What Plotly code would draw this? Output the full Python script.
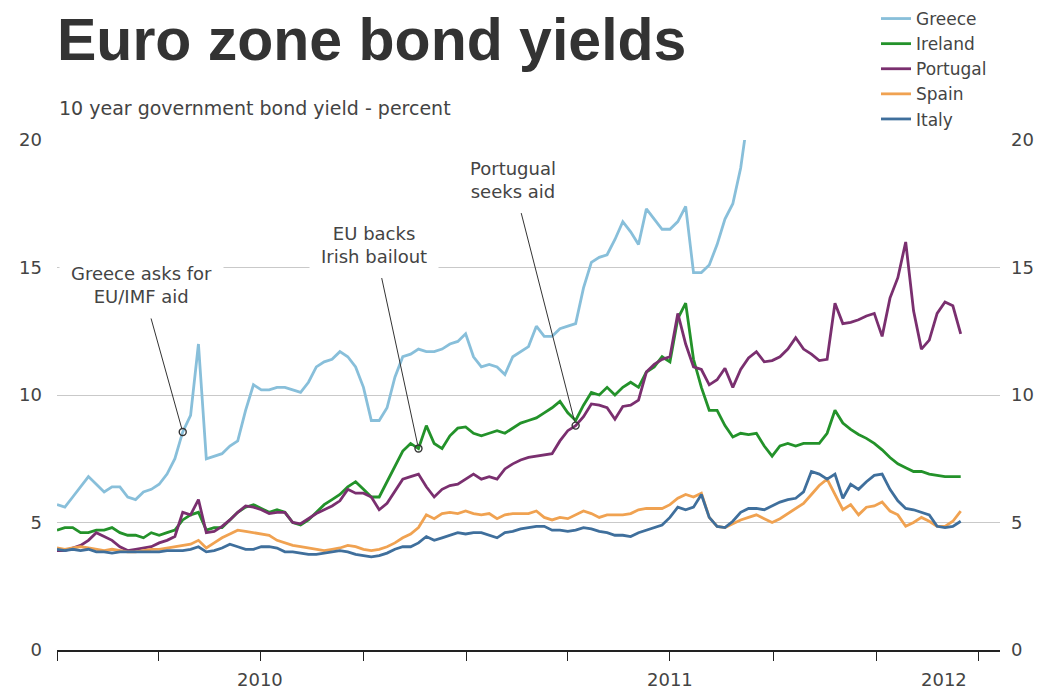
import pandas as pd
import plotly.graph_objects as go

# Weekly observations (Fridays) starting 1 Jan 2010
dates = pd.date_range("2010-01-01", periods=116, freq="7D")

greece = [
    5.7, 5.6, 6.0, 6.4, 6.8, 6.5, 6.2, 6.4, 6.4, 6.0,
    5.9, 6.2, 6.3, 6.5, 6.9, 7.5, 8.55, 9.2, 12.0, 7.5,
    7.6, 7.7, 8.0, 8.2, 9.4, 10.4, 10.2, 10.2, 10.3, 10.3,
    10.2, 10.1, 10.5, 11.1, 11.3, 11.4, 11.7, 11.5, 11.1, 10.3,
    9.0, 9.0, 9.5, 10.7, 11.5, 11.6, 11.8, 11.7, 11.7, 11.8,
    12.0, 12.1, 12.4, 11.5, 11.1, 11.2, 11.1, 10.8, 11.5, 11.7,
    11.9, 12.7, 12.3, 12.3, 12.6, 12.7, 12.8, 14.2, 15.2, 15.4,
    15.5, 16.1, 16.8, 16.4, 15.9, 17.3, 16.9, 16.5, 16.5, 16.8,
    17.4, 14.8, 14.8, 15.1, 15.9, 16.9, 17.5, 18.9, 21.1,
]

ireland = [
    4.7, 4.8, 4.8, 4.6, 4.6, 4.7, 4.7, 4.8, 4.6, 4.5,
    4.5, 4.4, 4.6, 4.5, 4.6, 4.7, 5.1, 5.3, 5.4, 4.7,
    4.8, 4.8, 5.1, 5.4, 5.6, 5.7, 5.55, 5.4, 5.5, 5.4,
    5.0, 4.9, 5.1, 5.4, 5.7, 5.9, 6.1, 6.4, 6.6, 6.3,
    6.0, 6.0, 6.6, 7.2, 7.8, 8.1, 7.9, 8.8, 8.1, 7.9,
    8.4, 8.7, 8.75, 8.5, 8.4, 8.5, 8.6, 8.5, 8.7, 8.9,
    9.0, 9.1, 9.3, 9.5, 9.75, 9.3, 9.0, 9.6, 10.1, 10.0,
    10.3, 10.0, 10.3, 10.5, 10.3, 10.9, 11.1, 11.5, 11.3, 13.0,
    13.6, 11.4, 10.3, 9.4, 9.4, 8.8, 8.35, 8.5, 8.45, 8.5,
    8.0, 7.6, 8.0, 8.1, 8.0, 8.1, 8.1, 8.1, 8.5, 9.4,
    8.9, 8.65, 8.45, 8.3, 8.1, 7.85, 7.55, 7.3, 7.15, 7.0,
    7.0, 6.9, 6.85, 6.8, 6.8, 6.8,
]

portugal = [
    3.9, 3.9, 4.0, 4.1, 4.3, 4.6, 4.45, 4.3, 4.05, 3.9,
    3.95, 4.0, 4.05, 4.2, 4.3, 4.45, 5.4, 5.3, 5.9, 4.6,
    4.65, 4.85, 5.1, 5.4, 5.65, 5.6, 5.5, 5.35, 5.4, 5.4,
    5.0, 4.95, 5.15, 5.35, 5.5, 5.65, 5.85, 6.3, 6.15, 6.15,
    6.0, 5.5, 5.75, 6.2, 6.7, 6.8, 6.9, 6.4, 6.0, 6.3,
    6.45, 6.5, 6.7, 6.9, 6.7, 6.8, 6.7, 7.1, 7.3, 7.45,
    7.55, 7.6, 7.65, 7.7, 8.2, 8.6, 8.8, 9.15, 9.65, 9.6,
    9.5, 9.05, 9.55, 9.6, 9.8, 10.9, 11.2, 11.4, 11.5, 13.2,
    12.0, 11.1, 11.0, 10.4, 10.6, 11.05, 10.3, 11.0, 11.45, 11.7,
    11.3, 11.35, 11.5, 11.8, 12.25, 11.8, 11.6, 11.35, 11.4, 13.6,
    12.8, 12.85, 12.95, 13.1, 13.2, 12.3, 13.8, 14.6, 16.0, 13.3,
    11.8, 12.15, 13.2, 13.65, 13.5, 12.4,
]

spain = [
    4.0, 3.95, 4.0, 4.05, 4.0, 3.95, 3.9, 3.95, 3.9, 3.85,
    3.85, 3.9, 3.95, 3.95, 4.0, 4.05, 4.1, 4.15, 4.3, 4.0,
    4.2, 4.4, 4.55, 4.7, 4.65, 4.6, 4.55, 4.5, 4.3, 4.2,
    4.1, 4.05, 4.0, 3.95, 3.9, 3.95, 4.0, 4.1, 4.05, 3.95,
    3.9, 3.95, 4.05, 4.2, 4.4, 4.55, 4.8, 5.3, 5.15, 5.35,
    5.4, 5.35, 5.45, 5.35, 5.3, 5.35, 5.15, 5.3, 5.35, 5.35,
    5.35, 5.45, 5.2, 5.1, 5.2, 5.15, 5.3, 5.45, 5.35, 5.2,
    5.3, 5.3, 5.3, 5.35, 5.5, 5.55, 5.55, 5.55, 5.7, 5.95,
    6.1, 6.0, 6.15, 5.2, 4.85, 4.8, 4.95, 5.1, 5.2, 5.3,
    5.15, 5.0, 5.15, 5.35, 5.55, 5.75, 6.1, 6.45, 6.7, 6.1,
    5.5, 5.7, 5.3, 5.6, 5.65, 5.8, 5.45, 5.3, 4.85, 5.0,
    5.2, 5.05, 4.85, 4.85, 5.05, 5.45,
]

italy = [
    3.95, 3.9, 3.95, 3.9, 3.95, 3.85, 3.85, 3.8, 3.85, 3.85,
    3.85, 3.85, 3.85, 3.85, 3.9, 3.9, 3.9, 3.95, 4.05, 3.85,
    3.9, 4.0, 4.15, 4.05, 3.95, 3.95, 4.05, 4.05, 4.0, 3.85,
    3.85, 3.8, 3.75, 3.75, 3.8, 3.85, 3.9, 3.85, 3.75, 3.7,
    3.65, 3.7, 3.8, 3.95, 4.05, 4.05, 4.2, 4.45, 4.3, 4.4,
    4.5, 4.6, 4.55, 4.6, 4.6, 4.5, 4.4, 4.6, 4.65, 4.75,
    4.8, 4.85, 4.85, 4.7, 4.7, 4.65, 4.7, 4.8, 4.75, 4.65,
    4.6, 4.5, 4.5, 4.45, 4.6, 4.7, 4.8, 4.9, 5.2, 5.6,
    5.5, 5.6, 6.1, 5.2, 4.85, 4.8, 5.05, 5.4, 5.55, 5.55,
    5.5, 5.65, 5.8, 5.9, 5.95, 6.2, 7.0, 6.9, 6.7, 6.9,
    5.95, 6.5, 6.3, 6.6, 6.85, 6.9, 6.3, 5.85, 5.55, 5.5,
    5.4, 5.3, 4.85, 4.8, 4.85, 5.05,
]

y_ticks = [0, 5, 10, 15, 20]
quarter_ticks = pd.date_range("2010-01-01", "2012-04-01", freq="QS")
year_labels = [("2010", "2010-07-01"), ("2011", "2011-07-01"), ("2012", "2012-03-01")]

# Events: (text, series, week index, label offset x, label offset y)
events = [
    ("Greece asks for<br>EU/IMF aid", greece, 16, -41, -147),
    ("EU backs<br>Irish bailout", ireland, 46, -44, -204),
    ("Portugual<br>seeks aid", portugal, 66, -63, -246),
]

TXT = "#444444"
FONT = "DejaVu Sans"

series = [
    ("Greece", greece, "#88bfda"),
    ("Ireland", ireland, "#23922a"),
    ("Portugal", portugal, "#7a2f6f"),
    ("Spain", spain, "#f0a251"),
    ("Italy", italy, "#3f6f9c"),
]

fig = go.Figure()
for name, vals, color in series:
    fig.add_trace(go.Scatter(
        x=dates[:len(vals)], y=vals, name=name, mode="lines",
        line=dict(color=color, width=2.8), hoverinfo="x+y+name",
    ))

# Event markers (drawn on the right-hand axis, which shares the same scale)
fig.add_trace(go.Scatter(
    x=[dates[i] for _, _, i, _, _ in events],
    y=[s[i] for _, s, i, _, _ in events],
    mode="markers", yaxis="y2", showlegend=False, hoverinfo="skip",
    marker=dict(symbol="circle-open", size=7, color="#333333", line=dict(width=1.4)),
))

annotations = []
for text, s, i, ax, ay in events:
    annotations.append(dict(
        x=dates[i], y=s[i], xref="x", yref="y", text=text,
        showarrow=True, arrowhead=0, arrowwidth=1, arrowcolor="#333333",
        ax=ax, ay=ay, standoff=4, bgcolor="white", borderpad=11,
        font=dict(family=FONT, size=18, color=TXT), align="center",
    ))

for label, when in year_labels:
    annotations.append(dict(
        x=when, y=0, xref="x", yref="paper", text=label, showarrow=False,
        yanchor="middle", yshift=-29,
        font=dict(family=FONT, size=18, color=TXT),
    ))

annotations.append(dict(
    x=0, y=1.0627, xref="paper", yref="paper", xanchor="left", yanchor="middle",
    text="10 year government bond yield - percent", showarrow=False,
    font=dict(family=FONT, size=19, color=TXT),
))

axis_font = dict(family=FONT, size=18, color=TXT)

fig.update_layout(
    width=1041, height=691,
    margin=dict(l=57, r=41, t=140, b=41, autoexpand=False),
    paper_bgcolor="white", plot_bgcolor="white",
    title=dict(
        text="<b>Euro zone bond yields</b>",
        x=57 / 1041, xref="container", xanchor="left",
        y=1 - 39 / 691, yref="container", yanchor="middle",
        font=dict(family="Liberation Sans", size=59, color="#333333"),
    ),
    xaxis=dict(
        range=["2010-01-01", "2012-04-20"],
        tickvals=list(quarter_ticks), ticktext=[""] * len(quarter_ticks),
        ticks="outside", ticklen=9, tickwidth=1.3, tickcolor="#222222",
        showline=True, linecolor="#222222", linewidth=1.5,
        showgrid=False, zeroline=False,
    ),
    yaxis=dict(
        range=[0, 20], tickvals=y_ticks, showgrid=True,
        gridcolor="#c9c9c9", gridwidth=1.2, zeroline=False,
        ticks="", tickfont=axis_font, ticklabelstandoff=14,
    ),
    yaxis2=dict(
        range=[0, 20], tickvals=y_ticks, overlaying="y", side="right",
        showgrid=False, zeroline=False, ticks="", tickfont=axis_font,
        ticklabelstandoff=10,
    ),
    legend=dict(
        x=(876 - 57) / 943, y=(650 - 1) / 510, xanchor="left", yanchor="top",
        font=dict(family=FONT, size=17, color=TXT),
        bgcolor="rgba(0,0,0,0)", tracegroupgap=0,
    ),
    annotations=annotations,
    showlegend=True,
)

fig.write_html("out.html")
